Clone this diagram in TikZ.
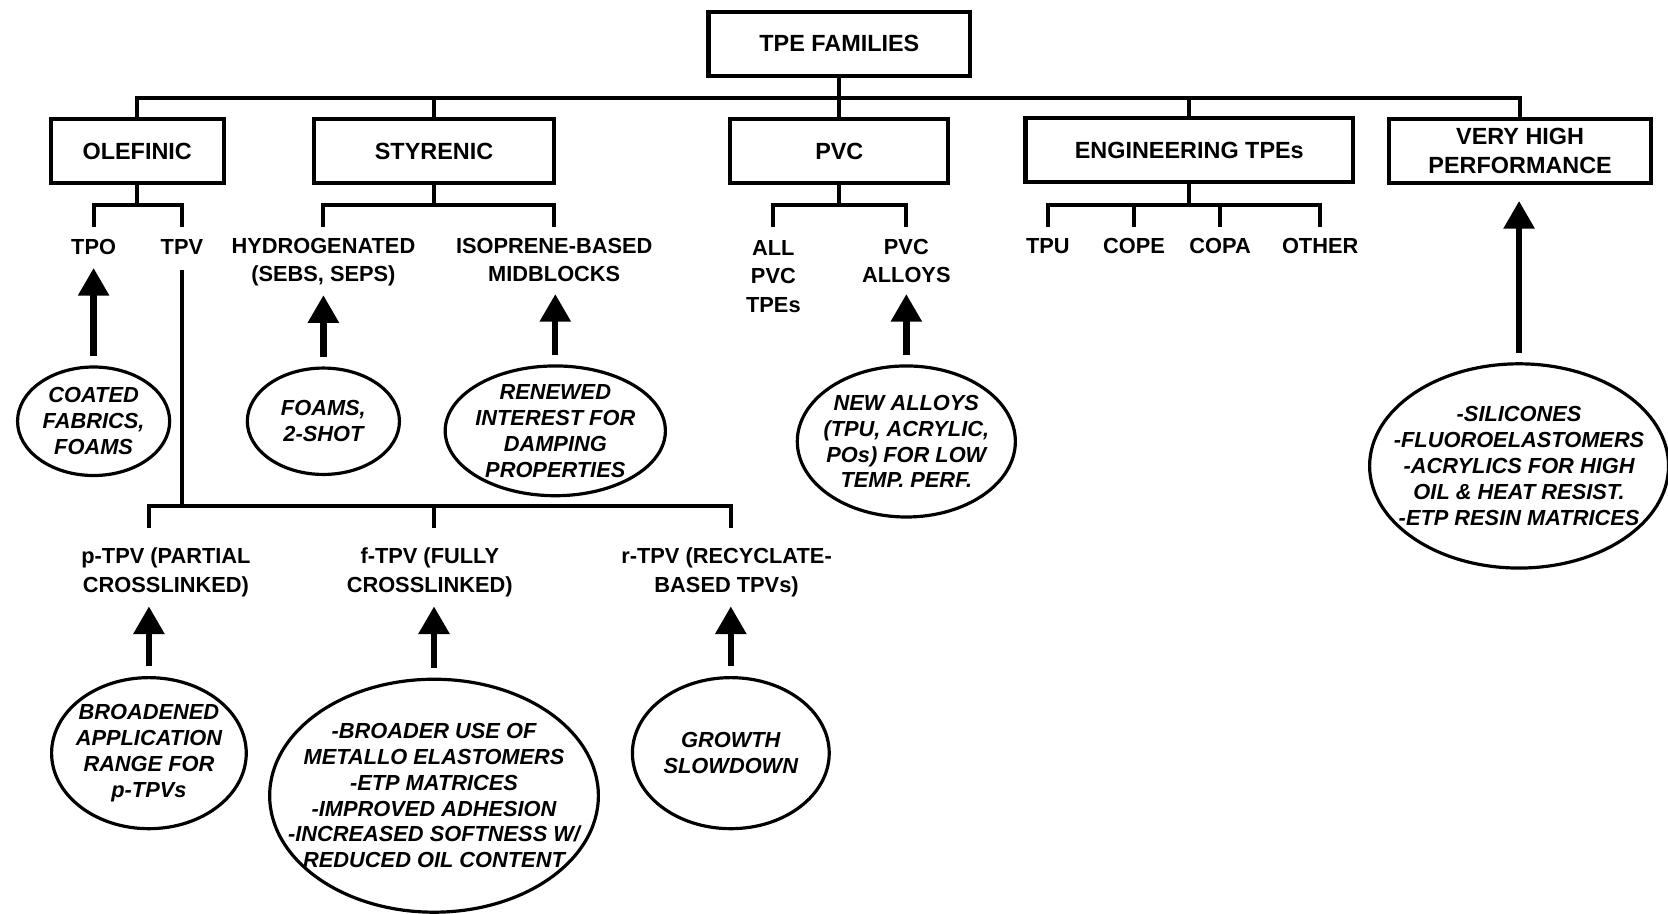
\documentclass[tikz,border=0pt]{standalone}
\usepackage{fontspec}
\setmainfont{Liberation Sans}
\usetikzlibrary{shapes.geometric,arrows.meta,calc}

\begin{document}
\begin{tikzpicture}[x=1pt,y=-1pt,
  famrect/.style={draw, line width=3.8pt, rectangle, inner sep=0pt, minimum height=60pt,
    align=center, font=\fontsize{22}{27}\selectfont\bfseries},
  sublabel/.style={inner sep=0pt, anchor=north, align=center,
    font=\fontsize{20.5}{26.5}\selectfont\bfseries},
  note/.style={draw, ellipse, line width=3pt, inner sep=0pt},
  notetext/.style={inner sep=0pt, align=center,
    font=\fontsize{20.5}{24.3}\selectfont\bfseries\itshape},
  conn/.style={line width=3.8pt},
  bigarrow/.style={line width=6pt, -{Triangle[length=26pt,width=28pt]}, shorten <=9pt},
]
\fill[white] (0,0) rectangle (1568,859);
\useasboundingbox (0,0) rectangle (1568,859);

% family boxes
\node[famrect, minimum width=246pt] (root) at (789,41) {TPE FAMILIES};
\node[famrect, minimum width=163pt] (olef) at (129,142) {OLEFINIC};
\node[famrect, minimum width=225pt] (sty) at (408,142) {STYRENIC};
\node[famrect, minimum width=205pt] (pvc) at (789,142) {PVC};
\node[famrect, minimum width=308pt] (eng) at (1118,141) {ENGINEERING TPEs};
\node[famrect, minimum width=246pt] (vhp) at (1429,142) {VERY HIGH\\PERFORMANCE};

% sub-family labels
\node[sublabel] (tpo) at (88,225) {TPO};
\node[sublabel] (tpv) at (171,225) {TPV};
\node[sublabel] (hydro) at (304,224) {HYDROGENATED\\(SEBS, SEPS)};
\node[sublabel] (iso) at (521,224) {ISOPRENE-BASED\\MIDBLOCKS};
\node[sublabel] (allpvc) at (727,226) {ALL\\PVC\\TPEs};
\node[sublabel] (alloys) at (852,225) {PVC\\ALLOYS};
\node[sublabel] (tpu) at (985,224) {TPU};
\node[sublabel] (cope) at (1066,224) {COPE};
\node[sublabel] (copa) at (1147,224) {COPA};
\node[sublabel] (other) at (1241,224) {OTHER};

% TPV types
\node[sublabel] (ptpv) at (156,515) {p-TPV (PARTIAL\\CROSSLINKED)};
\node[sublabel] (ftpv) at (404,515) {f-TPV (FULLY\\CROSSLINKED)};
\node[sublabel] (rtpv) at (683,515) {r-TPV (RECYCLATE-\\BASED TPVs)};

% trend ellipses
\node[note, minimum width=143pt, minimum height=102pt] (coated) at (88,396) {};
\node[notetext] at (coated.center) {COATED\\FABRICS,\\FOAMS};
\node[note, minimum width=143pt, minimum height=100pt] (foams) at (304,396) {};
\node[notetext] at (foams.center) {FOAMS,\\2-SHOT};
\node[note, minimum width=207pt, minimum height=122pt] (renewed) at (522,405) {};
\node[notetext] at (renewed.center) {RENEWED\\INTEREST FOR\\DAMPING\\PROPERTIES};
\node[note, minimum width=205pt, minimum height=142pt] (newalloy) at (852,415) {};
\node[notetext] at (newalloy.center) {NEW ALLOYS\\(TPU, ACRYLIC,\\POs) FOR LOW\\TEMP. PERF.};
\node[note, minimum width=281pt, minimum height=192pt] (vhpell) at (1428,438) {};
\node[notetext] at (vhpell.center) {-SILICONES\\-FLUOROELASTOMERS\\-ACRYLICS FOR HIGH\\OIL \& HEAT RESIST.\\-ETP RESIN MATRICES};
\node[note, minimum width=183pt, minimum height=142pt] (broad) at (140,708) {};
\node[notetext] at (broad.center) {BROADENED\\APPLICATION\\RANGE FOR\\p-TPVs};
\node[note, minimum width=309pt, minimum height=219pt] (broader) at (408,748) {};
\node[notetext] at (broader.center) {-BROADER USE OF\\METALLO ELASTOMERS\\-ETP MATRICES\\-IMPROVED ADHESION\\-INCREASED SOFTNESS W/\\REDUCED OIL CONTENT};
\node[note, minimum width=185pt, minimum height=142pt] (growth) at (687,708) {};
\node[notetext] at (growth.center) {GROWTH\\SLOWDOWN};

% bus levels
\coordinate (bus) at (0,92);
\coordinate (subbar) at (0,193);
\coordinate (tbus) at (0,476);

% main tree
\draw[conn] (olef.north) -- (olef.north |- bus) -| (vhp.north);
\foreach \n in {root.south, sty.north, pvc.north, eng.north}
  \draw[conn] (\n) -- (\n |- bus);

% sub-family branches
\draw[conn] (olef.south) -- (olef.south |- subbar);
\draw[conn] ($(tpo.north)+(0,-12)$) |- (olef.south |- subbar) -| ($(tpv.north)+(0,-12)$);
\draw[conn] (sty.south) -- (sty.south |- subbar);
\draw[conn] ($(hydro.north)+(0,-11)$) |- (sty.south |- subbar) -| ($(iso.north)+(0,-11)$);
\draw[conn] (pvc.south) -- (pvc.south |- subbar);
\draw[conn] ($(allpvc.north)+(0,-13)$) |- (pvc.south |- subbar) -| ($(alloys.north)+(0,-12)$);
\draw[conn] (eng.south) -- (eng.south |- subbar);
\draw[conn] ($(tpu.north)+(0,-11)$) |- (eng.south |- subbar) -| ($(other.north)+(0,-11)$);
\draw[conn] ($(cope.north)+(0,-11)$) -- (cope.north |- subbar);
\draw[conn] ($(copa.north)+(0,-11)$) -- (copa.north |- subbar);

% TPV branch
\draw[conn] ($(tpv.south)+(0,14)$) -- (tpv.south |- tbus);
\draw[conn] ($(broad.north |- ptpv.north)+(0,-19)$) |- (tpv.south |- tbus)
  -| ($(growth.north |- rtpv.north)+(0,-19)$);
\draw[conn] ($(broader.north |- ftpv.north)+(0,-19)$) -- (broader.north |- tbus);

% trend arrows
\draw[bigarrow, shorten >=12pt] (coated.north) -- (coated.north |- tpo.south);
\draw[bigarrow, shorten >=8pt] (foams.north) -- (foams.north |- hydro.south);
\draw[bigarrow, shorten >=11pt] (renewed.north) -- (renewed.north |- iso.south);
\draw[bigarrow, shorten >=10pt] (newalloy.north) -- (newalloy.north |- alloys.south);
\draw[bigarrow, shorten >=15pt] (vhpell.north) -- (vhpell.north |- vhp.south);
\draw[bigarrow, shorten >=9pt] (broad.north) -- (broad.north |- ptpv.south);
\draw[bigarrow, shorten >=9pt] (broader.north) -- (broader.north |- ftpv.south);
\draw[bigarrow, shorten >=9pt] (growth.north) -- (growth.north |- rtpv.south);
\end{tikzpicture}
\end{document}
